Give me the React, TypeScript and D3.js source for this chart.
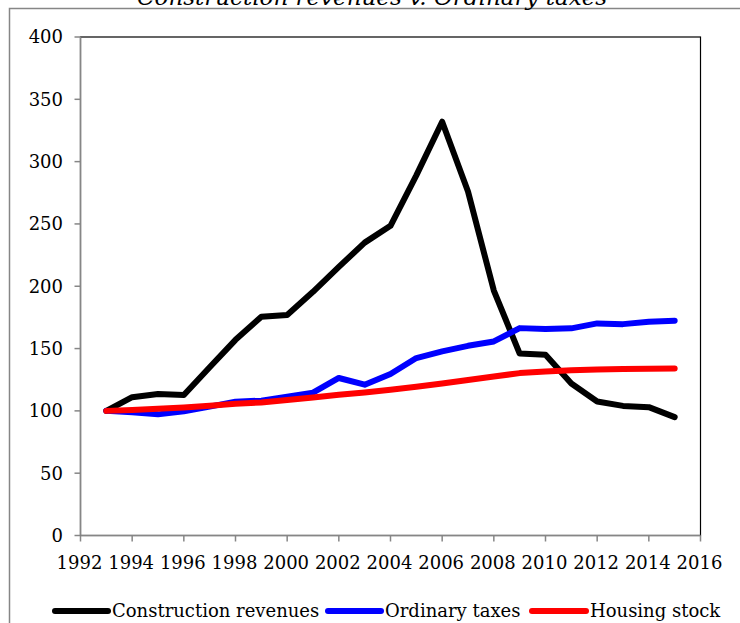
import React from "react";
import * as d3 from "d3";

// Index values (1993 = 100)
const years = [1993, 1994, 1995, 1996, 1997, 1998, 1999, 2000, 2001, 2002, 2003, 2004, 2005, 2006, 2007, 2008, 2009, 2010, 2011, 2012, 2013, 2014, 2015];
const constructionRevenues = [100, 111, 113.5, 112.7, 135, 157, 175.5, 177, 195.5, 215.5, 235, 248.5, 289, 332, 276, 196.5, 146, 145, 122, 107.5, 104, 103, 95];
const ordinaryTaxes = [100, 98.8, 97.2, 99.6, 103.4, 107.4, 108.2, 111.4, 114.6, 126.4, 121, 129.6, 142.4, 147.7, 152.2, 155.7, 166.4, 165.6, 166.2, 170.2, 169.6, 171.5, 172.3];
const housingStock = [100, 100.7, 101.8, 102.8, 104.2, 105.8, 106.8, 108.7, 110.8, 113, 114.8, 117, 119.4, 122, 124.8, 127.6, 130.3, 131.6, 132.5, 133.2, 133.6, 133.9, 134.1];

const xTicks = [1992, 1994, 1996, 1998, 2000, 2002, 2004, 2006, 2008, 2010, 2012, 2014, 2016];
const yTicks = [0, 50, 100, 150, 200, 250, 300, 350, 400];

const seriesNames = ["Construction revenues", "Ordinary taxes", "Housing stock"];
const seriesColors = ["#000000", "#0000ff", "#ff0000"];

const W = 740;
const H = 623;
const plot = { left: 80.5, right: 700.5, top: 37, bottom: 535.5 };
const FONT = "'DejaVu Serif', serif";
const AXIS = "#868686";

export default function App() {
  const x = d3.scaleLinear().domain([1992, 2016]).range([plot.left, plot.right]);
  const y = d3.scaleLinear().domain([0, 400]).range([plot.bottom, plot.top]);

  const line = d3
    .line<[number, number]>()
    .x((d) => x(d[0]))
    .y((d) => y(d[1]));

  const series = [constructionRevenues, ordinaryTaxes, housingStock];

  const legendItems = [
    { sx: 55, ex: 108, tx: 112 },
    { sx: 328, ex: 381, tx: 385 },
    { sx: 532, ex: 586, tx: 590 },
  ];
  const legendY = 611;

  return (
    <svg
      width={W}
      height={H}
      style={{ position: "absolute", left: 0, top: 0, background: "#fff" }}
      fontFamily={FONT}
    >
      <rect x={0} y={0} width={W} height={H} fill="#fff" />
      {/* chart frame */}
      <path d={`M9.5,${H + 2} V8.5 H${W + 2}`} fill="none" stroke={AXIS} strokeWidth={1.5} />
      {/* title */}
      <text x={372} y={5} textAnchor="middle" fontSize={23} fontStyle="italic" fill="#000">
        Construction revenues v. Ordinary taxes
      </text>

      {/* plot area border */}
      <rect
        x={plot.left}
        y={plot.top}
        width={plot.right - plot.left}
        height={plot.bottom - plot.top}
        fill="none"
        stroke="#000"
        strokeWidth={1.2}
      />

      {/* y axis */}
      <line x1={plot.left} x2={plot.left} y1={plot.top} y2={plot.bottom} stroke={AXIS} strokeWidth={1.5} />
      {yTicks.map((t) => (
        <g key={t}>
          <line x1={plot.left - 6} x2={plot.left} y1={y(t)} y2={y(t)} stroke={AXIS} strokeWidth={1.5} />
          <text x={63} y={y(t)} dy="0.36em" textAnchor="end" fontSize={18} fill="#000">
            {t}
          </text>
        </g>
      ))}

      {/* x axis */}
      <line x1={plot.left} x2={plot.right} y1={plot.bottom} y2={plot.bottom} stroke={AXIS} strokeWidth={1.5} />
      {xTicks.map((t) => (
        <g key={t}>
          <line x1={x(t)} x2={x(t)} y1={plot.bottom} y2={plot.bottom + 6} stroke={AXIS} strokeWidth={1.5} />
          <text x={x(t) - 1} y={569} textAnchor="middle" fontSize={18} fill="#000">
            {t}
          </text>
        </g>
      ))}

      {/* series lines */}
      {series.map((vals, i) => (
        <path
          key={seriesNames[i]}
          d={line(years.map((yr, j) => [yr, vals[j]] as [number, number])) || ""}
          fill="none"
          stroke={seriesColors[i]}
          strokeWidth={6}
          strokeLinejoin="round"
          strokeLinecap="round"
        />
      ))}

      {/* legend */}
      {legendItems.map((it, i) => (
        <g key={seriesNames[i]}>
          <line
            x1={it.sx}
            x2={it.ex}
            y1={legendY}
            y2={legendY}
            stroke={seriesColors[i]}
            strokeWidth={6}
            strokeLinecap="round"
          />
          <text x={it.tx} y={legendY} dy="0.36em" fontSize={18} fill="#000">
            {seriesNames[i]}
          </text>
        </g>
      ))}
    </svg>
  );
}
